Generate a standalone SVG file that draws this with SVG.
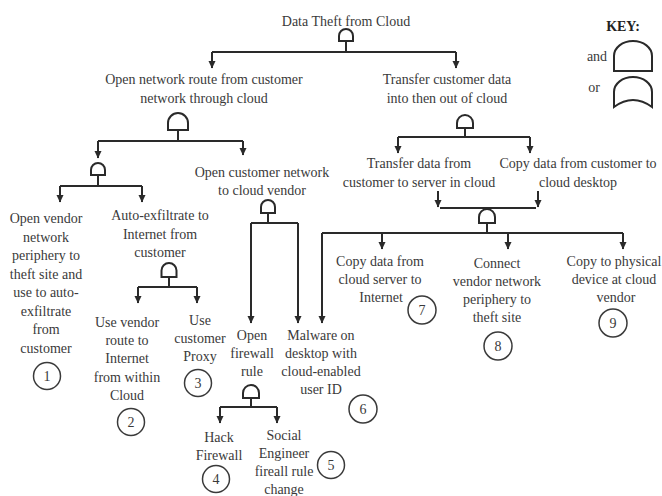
<svg xmlns="http://www.w3.org/2000/svg" width="662" height="496" viewBox="0 0 662 496">
<style>
text{font-family:"Liberation Serif","Times New Roman",serif;font-size:14px;fill:#3a3a3a;text-anchor:middle}
.key{font-weight:bold;fill:#222}
.gate{fill:#fff;stroke:#2a2a2a;stroke-width:2}
.kgate{fill:#fff;stroke:#2a2a2a;stroke-width:2}
.num{fill:#fff;stroke:#3a3a3a;stroke-width:1.5}
.c{fill:none;stroke:#2a2a2a;stroke-width:2}
.a{fill:none;stroke:#2a2a2a;stroke-width:2;marker-end:url(#arr)}
</style>
<defs>
<marker id="arr" markerUnits="userSpaceOnUse" markerWidth="8" markerHeight="8" refX="7" refY="3.5" orient="auto">
<path d="M0,0 L7.5,3.5 L0,7 Z" fill="#2a2a2a"/>
</marker>
</defs>
<rect width="662" height="496" fill="#fff"/>

<g id="key">
<text class="key" x="623" y="31">KEY:</text>
<text x="597" y="61">and</text>
<text x="594" y="92">or</text>
<path class="kgate" d="M614,71 V56 A19 15 0 0 1 652,56 V71 Z"/>
<path class="kgate" d="M614,107 V92 A19 15 0 0 1 652,92 V107 Q633,93 614,107 Z"/>
</g>

<g id="connectors">
<path class="c" d="M346,41 V52 M212,52 H456"/>
<path class="a" d="M212,52 V68"/>
<path class="a" d="M456,52 V68"/>
<path class="c" d="M178,130 V141 M98,141 H243"/>
<path class="a" d="M98,141 V158"/>
<path class="a" d="M243,141 V155"/>
<path class="c" d="M98,175 V186 M60,186 H142"/>
<path class="a" d="M60,186 V202"/>
<path class="a" d="M142,186 V202"/>
<path class="c" d="M169,277 V287 M138,287 H197"/>
<path class="a" d="M138,287 V303"/>
<path class="a" d="M197,287 V303"/>
<path class="c" d="M268,213 V223 M251,223 H298"/>
<path class="a" d="M251,223 V323"/>
<path class="a" d="M298,223 V323"/>
<path class="c" d="M465,128 V137 M398,137 H530"/>
<path class="a" d="M398,137 V153"/>
<path class="a" d="M530,137 V153"/>
<path class="a" d="M438,191 V207"/>
<path class="a" d="M538,191 V207"/>
<path class="c" d="M440,208 H536"/>
<path class="c" d="M487,223 V233 M322,233 H623"/>
<path class="a" d="M322,233 V323"/>
<path class="a" d="M382,233 V249"/>
<path class="a" d="M508,233 V249"/>
<path class="a" d="M623,233 V249"/>
<path class="c" d="M251,398 V407 M220,407 H277"/>
<path class="a" d="M220,407 V423"/>
<path class="a" d="M277,407 V423"/>
</g>

<g id="n0">
<text x="346" y="26">Data Theft from Cloud</text>
<path class="gate" d="M339,41 V36 A7 7 0 0 1 353,36 V41 Z"/>
</g>
<g id="n1">
<text x="204" y="84">Open network route from customer</text>
<text x="204" y="103">network through cloud</text>
<path class="gate" d="M168,130 V123 A10 10 0 0 1 188,123 V130 Z"/>
</g>
<g id="n2">
<text x="447" y="84">Transfer customer data</text>
<text x="447" y="103">into then out of cloud</text>
<path class="gate" d="M457,128 V123 A8 8 0 0 1 473,123 V128 Z"/>
</g>
<g id="n2a">
<path class="gate" d="M91,175 V170 A7 7 0 0 1 105,170 V175 Z"/>
</g>
<g id="n3">
<text x="46" y="223">Open vendor</text>
<text x="46" y="241.5">network</text>
<text x="46" y="260">periphery to</text>
<text x="46" y="278.5">theft site and</text>
<text x="46" y="297">use to auto-</text>
<text x="46" y="315.5">exfiltrate</text>
<text x="46" y="334">from</text>
<text x="46" y="352.5">customer</text>
<circle class="num" cx="47" cy="376" r="13.5"/>
<text x="47" y="381">1</text>
</g>
<g id="n4">
<text x="160" y="220">Auto-exfiltrate to</text>
<text x="160" y="238.5">Internet from</text>
<text x="160" y="257">customer</text>
<path class="gate" d="M161.5,277 V270.5 A7.5 7.5 0 0 1 176.5,270.5 V277 Z"/>
</g>
<g id="n5">
<text x="127" y="327">Use vendor</text>
<text x="127" y="345">route to</text>
<text x="127" y="363">Internet</text>
<text x="127" y="382">from within</text>
<text x="127" y="400">Cloud</text>
<circle class="num" cx="131" cy="422" r="13.5"/>
<text x="131" y="427">2</text>
</g>
<g id="n6">
<text x="200" y="325">Use</text>
<text x="200" y="343">customer</text>
<text x="200" y="361">Proxy</text>
<circle class="num" cx="198" cy="383" r="13.5"/>
<text x="198" y="388">3</text>
</g>
<g id="n7">
<text x="262" y="177">Open customer network</text>
<text x="262" y="195">to cloud vendor</text>
<path class="gate" d="M261,213 V207 A7 7 0 0 1 275,207 V213 Z"/>
</g>
<g id="n8">
<text x="252" y="340">Open</text>
<text x="252" y="358">firewall</text>
<text x="252" y="376">rule</text>
<path class="gate" d="M243,398 V393 A8 8 0 0 1 259,393 V398 Z"/>
</g>
<g id="n9">
<text x="219" y="442">Hack</text>
<text x="219" y="460">Firewall</text>
<circle class="num" cx="216" cy="479" r="13.5"/>
<text x="216" y="484">4</text>
</g>
<g id="n10">
<text x="284" y="440">Social</text>
<text x="284" y="458">Engineer</text>
<text x="284" y="476">fireall rule</text>
<text x="284" y="494">change</text>
<circle class="num" cx="331" cy="465" r="13.5"/>
<text x="331" y="470">5</text>
</g>
<g id="n11">
<text x="321" y="340">Malware on</text>
<text x="321" y="358">desktop with</text>
<text x="321" y="376">cloud-enabled</text>
<text x="321" y="394">user ID</text>
<circle class="num" cx="363" cy="409" r="14"/>
<text x="363" y="414">6</text>
</g>
<g id="n12">
<text x="419" y="168">Transfer data from</text>
<text x="419" y="187">customer to server in cloud</text>
</g>
<g id="n13">
<text x="578" y="168">Copy data from customer to</text>
<text x="578" y="187">cloud desktop</text>
</g>
<g id="n13a">
<path class="gate" d="M479,223 V217 A8 8 0 0 1 495,217 V223 Z"/>
</g>
<g id="n14">
<text x="380" y="266">Copy data from</text>
<text x="380" y="284">cloud server to</text>
<text x="381" y="302">Internet</text>
<circle class="num" cx="422" cy="310" r="14"/>
<text x="422" y="315">7</text>
</g>
<g id="n15">
<text x="497" y="268">Connect</text>
<text x="497" y="286">vendor network</text>
<text x="497" y="304">periphery to</text>
<text x="497" y="322">theft site</text>
<circle class="num" cx="498" cy="346" r="14"/>
<text x="498" y="351">8</text>
</g>
<g id="n16">
<text x="614" y="266">Copy to physical</text>
<text x="614" y="284">device at cloud</text>
<text x="616" y="302">vendor</text>
<circle class="num" cx="613" cy="323" r="14"/>
<text x="613" y="328">9</text>
</g>
</svg>
